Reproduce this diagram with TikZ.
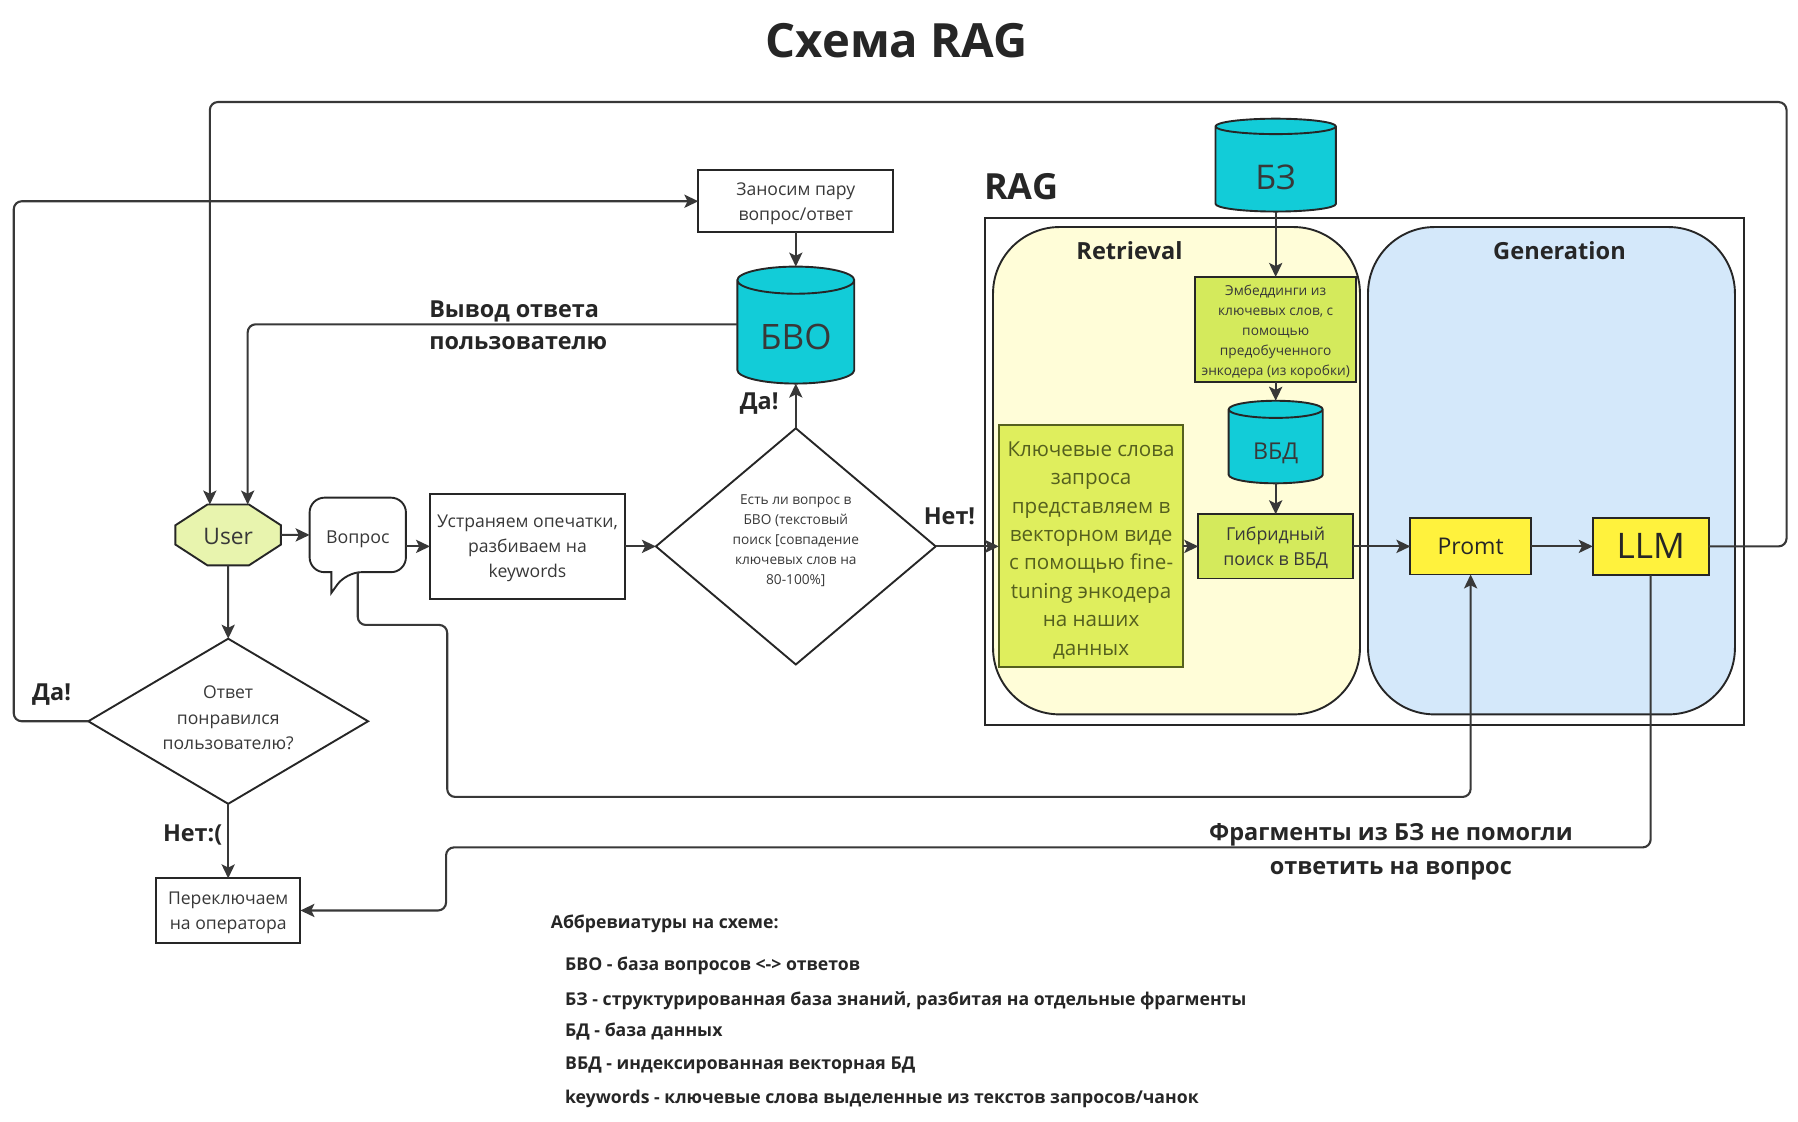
\documentclass[tikz,border=0pt]{standalone}
\usepackage{fontspec}
\setmainfont{Open Sans}
\usetikzlibrary{positioning}
\usetikzlibrary{arrows.meta}
\usetikzlibrary{shapes.geometric}
\usetikzlibrary{shapes.misc}
\newcommand{\U}{0.57334pt}
\newcommand{\topgap}[1]{\rule{0pt}{#1}}
\definecolor{inkgray}{HTML}{383838}
\definecolor{dbcyan}{HTML}{12CCD8}
\definecolor{paleyellow}{HTML}{FFFDD8}
\definecolor{paleblue}{HTML}{D4E8FA}
\definecolor{limebox}{HTML}{D4EA5C}
\definecolor{lightlime}{HTML}{DFEE5D}
\definecolor{sunbox}{HTML}{FFF23D}
\definecolor{usergreen}{HTML}{E8F4AE}
\definecolor{olivetext}{HTML}{55601E}
\tikzset{
	base/.style={draw=black!85, line width=0.95pt, align=center, text=inkgray, inner sep=0pt, outer sep=0pt},
	stepbox/.style={base, rectangle, font=\fontsize{8.8}{12.6}\selectfont},
	limenode/.style={stepbox, fill=limebox},
	sunnode/.style={stepbox, fill=sunbox, text=black!85},
	dbnode/.style={base, cylinder, shape border rotate=90, fill=dbcyan},
	decision/.style={base, diamond},
	region/.style={draw=black!85, line width=0.95pt, rectangle, rounded corners=58*\U, minimum width=320*\U, minimum height=425*\U},
	edge/.style={draw=inkgray, line width=1.05pt, rounded corners=4pt, -{Stealth[length=7pt,width=6.6pt,inset=1.6pt]}},
	loud/.style={font=\fontsize{11.7}{16}\selectfont\bfseries, text=black!85, align=left, inner sep=0pt},
	legendline/.style={font=\fontsize{8.83}{11}\selectfont\bfseries, text=black!85, anchor=west, inner sep=0pt}
}

\begin{document}
\begin{tikzpicture}[x=0.57334pt,y=-0.57334pt]
\useasboundingbox (0,0) rectangle (1568,978.4);

% Define nodes
\node[font=\fontsize{23.6}{23.6}\selectfont\bfseries, text=black!85, inner sep=0pt]  (title) at (782,35.3) {Схема RAG};

\node[draw=black!85, line width=0.95pt, minimum width=662*\U, minimum height=442*\U]    (ragframe) at (1190,411) {};
\node[loud, font=\fontsize{18}{18}\selectfont\bfseries]                                  (raglabel) at (890.5,163) {RAG};
\node[region, fill=paleyellow]                                                           (retrieval) at (1026,410.5) {};
\node[region, fill=paleblue]                                                             (generation) at (1353,410.5) {};
\node[loud, font=\fontsize{11.8}{11.8}\selectfont\bfseries]                              (retrievaltitle) at (985,219) {Retrieval};
\node[loud, font=\fontsize{11.8}{11.8}\selectfont\bfseries]                              (generationtitle) at (1360,219) {Generation};

\node[base, chamfered rectangle, chamfered rectangle angle=57, chamfered rectangle ysep=17.7*\U, fill=usergreen, minimum width=92*\U, minimum height=53*\U, font=\fontsize{11.4}{12}\selectfont] (user) at (199,466.5) {\topgap{9.5pt}User};
\node[font=\fontsize{8.9}{12}\selectfont, text=inkgray, inner sep=0pt, outer sep=0pt, minimum width=84*\U, minimum height=65*\U, right = 25*\U of user] (question) {\topgap{10.5pt}Вопрос};
\node[stepbox, minimum width=170*\U, minimum height=91*\U]   (rewrite) at (460,476.5) {\topgap{8.4pt}Устраняем опечатки,\\разбиваем на\\keywords};
\node[decision, aspect=1.18, minimum width=244*\U, minimum height=206*\U, font=\fontsize{6.85}{10}\selectfont, right = 27*\U of rewrite] (check) {Есть ли вопрос в\\БВО (текстовый\\поиск [совпадение\\ключевых слов на\\80-100\%]\\[-3pt]\mbox{}};
\node[dbnode, aspect=0.38, minimum width=102*\U, minimum height=102*\U, font=\fontsize{17.5}{17.5}\selectfont, above = 39*\U of check] (bvo) {\topgap{17.5pt}БВО};
\node[stepbox, minimum width=170*\U, minimum height=54*\U, above = 30*\U of bvo] (pair) {\topgap{9pt}Заносим пару\\вопрос/ответ};

\node[decision, aspect=1.7, minimum width=244*\U, minimum height=144*\U, font=\fontsize{8.8}{12.6}\selectfont, below = 64*\U of user] (like) {Ответ\\понравился\\пользователю?\\[-9pt]\mbox{}};
\node[stepbox, minimum width=126*\U, minimum height=56*\U, below = 65*\U of like] (operator) {\topgap{9pt}Переключаем\\на оператора};

\node[limenode, fill=lightlime, draw=olivetext, minimum width=161*\U, minimum height=211*\U, text=olivetext, font=\fontsize{10.3}{14.2}\selectfont, right = 55*\U of check] (keyword) {\topgap{11.3pt}Ключевые слова\\запроса\\представляем в\\векторном виде\\с помощью fine-\\tuning энкодера\\на наших\\данных};
\node[limenode, minimum width=135*\U, minimum height=56*\U, font=\fontsize{8.9}{12.6}\selectfont, right = 13*\U of keyword] (hybrid) {\topgap{8pt}Гибридный\\поиск в ВБД};
\node[dbnode, aspect=0.38, minimum width=82*\U, minimum height=72*\U, font=\fontsize{11.6}{12}\selectfont, above = 27*\U of hybrid] (vbd) {\topgap{15.2pt}ВБД};
\node[limenode, minimum width=140*\U, minimum height=92*\U, font=\fontsize{6.85}{10}\selectfont, above = 16*\U of vbd] (embed) {\topgap{7.3pt}Эмбеддинги из\\ключевых слов, с\\помощью\\предобученного\\энкодера (из коробки)};
\node[dbnode, aspect=0.38, minimum width=105*\U, minimum height=81*\U, font=\fontsize{17}{17}\selectfont, above = 57*\U of embed] (bz) {\topgap{20.5pt}БЗ};
\node[sunnode, minimum width=105*\U, minimum height=49*\U, font=\fontsize{11.5}{12}\selectfont, right = 50*\U of hybrid] (promt) {Promt};
\node[sunnode, minimum width=101*\U, minimum height=50*\U, font=\fontsize{17.6}{17.6}\selectfont, right = 54*\U of promt] (llm) {LLM};

% Labels
\node[loud, anchor=north west]                 (answerlabel) at (374,262) {Вывод ответа\\пользователю};
\node[loud, anchor=center]                     (yesbvo) at (662,352) {Да!};
\node[loud, anchor=center]                     (nocheck) at (828,450) {Нет!};
\node[loud, anchor=center]                     (yeslike) at (45,606) {Да!};
\node[loud, anchor=center]                     (nolike) at (168,728) {Нет:(};
\node[loud, align=center, font=\fontsize{11.75}{17.2}\selectfont\bfseries] (faillabel) at (1213,743) {Фрагменты из БЗ не помогли\\ответить на вопрос};

\node[legendline]  (legendhead) at (480,806) {Аббревиатуры на схеме:};
\node[legendline]  (legendbvo) at (492.5,842) {БВО - база вопросов <-> ответов};
\node[legendline]  (legendbz) at (492.5,873) {БЗ - структурированная база знаний, разбитая на отдельные фрагменты};
\node[legendline]  (legendbd) at (492.5,900) {БД - база данных};
\node[legendline]  (legendvbd) at (492.5,929) {ВБД - индексированная векторная БД};
\node[legendline]  (legendkw) at (492.5,958) {keywords - ключевые слова выделенные из текстов запросов/чанок};

% Speech bubble around the question
\draw[draw=black!85, line width=0.95pt] (question.north) [rounded corners=13*\U] -- (question.north east) -- (question.south east) -- ([xshift=-10*\U]question.south) [sharp corners] -- ([xshift=-23*\U,yshift=-18*\U]question.south) -- ([xshift=-23*\U]question.south) [rounded corners=13*\U] -- (question.south west) -- (question.north west) -- cycle;

% Bends
\coordinate (loopcorner) at (1558,89);
\coordinate (pairbend) at (12,175);
\coordinate (qtop) at (390,545);
\coordinate (qbottom) at (390,695);
\coordinate (failbend) at (389,739);

% Edges
\draw[edge] (user) -- (question);
\draw[edge] (question.east |- rewrite) -- (rewrite);
\draw[edge] (rewrite) -- (check);
\draw[edge] (check) -- (keyword);
\draw[edge] (keyword) -- (hybrid);
\draw[edge] (hybrid) -- (promt);
\draw[edge] (promt) -- (llm);
\draw[edge] (bz) -- (embed);
\draw[edge] (embed) -- (vbd);
\draw[edge] (vbd) -- (hybrid);
\draw[edge] (check) -- (bvo);
\draw[edge] (pair) -- (bvo);
\draw[edge] (user) -- (like);
\draw[edge] (like) -- (operator);
\draw[edge] ([yshift=7*\U]bvo.west) -| ([xshift=17*\U]user.north);
\draw[edge] (llm.east) -| (loopcorner) -| ([xshift=-16*\U]user.north);
\draw[edge] (like.west) -| (pairbend |- pair.west) -- (pair.west);
\draw[edge] (question.south) |- (qtop) -- (qbottom) -| (promt.south);
\draw[edge] (llm.south) |- (failbend) |- (operator.east);
\end{tikzpicture}
\end{document}
